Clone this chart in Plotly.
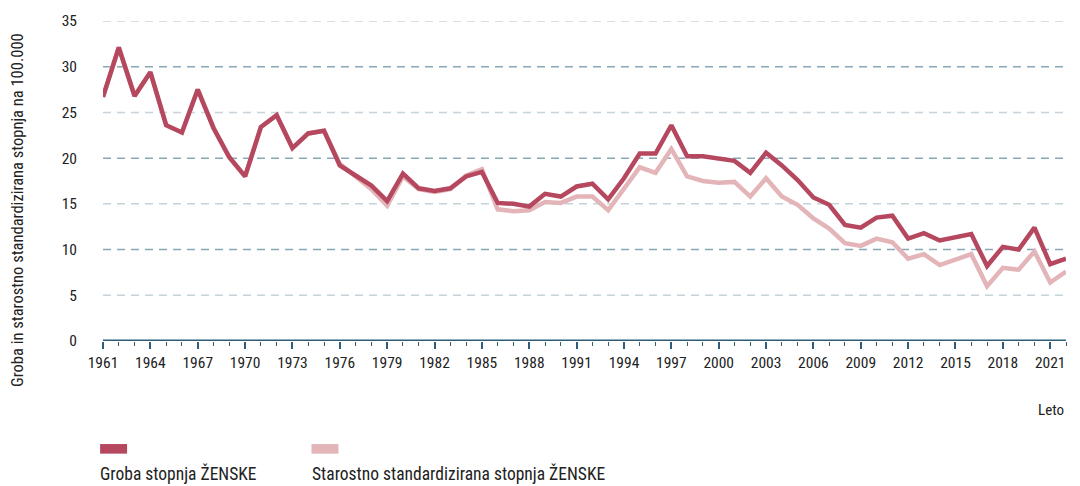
import plotly.graph_objects as go

years = list(range(1961, 2023))
groba = [26.7, 32.1, 26.8, 29.4, 23.6, 22.8, 27.5, 23.3, 20.1, 18.0,
         23.4, 24.7, 21.1, 22.7, 23.0, 19.2, 18.1, 17.0, 15.3, 18.3,
         16.7, 16.4, 16.7, 18.0, 18.5, 15.1, 15.0, 14.7, 16.1, 15.8,
         16.9, 17.2, 15.5, 17.8, 20.5, 20.5, 23.6, 20.2, 20.2, 20.0,
         19.7, 18.4, 20.6, 19.2, 17.6, 15.7, 14.9, 12.7, 12.4, 13.5,
         13.7, 11.2, 11.8, 11.0, 11.3, 11.7, 8.2, 10.3, 10.0, 12.4,
         8.4, 9.0]
standard = [26.7, 32.1, 26.8, 29.4, 23.6, 22.8, 27.5, 23.3, 20.1, 18.0,
            23.4, 24.7, 21.1, 22.7, 23.0, 19.4, 18.0, 16.6, 14.8, 18.0,
            16.6, 16.3, 16.6, 18.1, 18.8, 14.4, 14.2, 14.3, 15.2, 15.1,
            15.8, 15.8, 14.3, 16.6, 19.0, 18.4, 21.0, 18.0, 17.5, 17.3,
            17.4, 15.8, 17.8, 15.8, 14.9, 13.4, 12.3, 10.7, 10.4, 11.2,
            10.8, 9.0, 9.5, 8.3, 8.9, 9.5, 6.0, 8.0, 7.8, 9.8,
            6.4, 7.6]
series_names = ["Groba stopnja ŽENSKE", "Starostno standardizirana stopnja ŽENSKE"]
y_ticks = [0, 5, 10, 15, 20, 25, 30, 35]

DARK = "#b5485f"
LIGHT = "#e3b5b9"
AXIS = "#2d5f7a"
FONT = "Roboto Condensed, Liberation Sans Narrow, sans-serif"

fig = go.Figure()
fig.add_trace(go.Scatter(x=years, y=standard, mode="lines", name=series_names[1],
                         line=dict(color=LIGHT, width=4.5), showlegend=False))
fig.add_trace(go.Scatter(x=years, y=groba, mode="lines", name=series_names[0],
                         line=dict(color=DARK, width=4.5), showlegend=False))

# gridlines (alternating shades)
for v in y_ticks[1:]:
    col = "#8aa7b8" if v % 10 == 0 else "#c6d3da"
    fig.add_hline(y=v, line=dict(color=col, width=1.5, dash="8px,6px"), layer="below")

fig.update_layout(
    width=1080, height=486,
    margin=dict(l=103, r=14, t=17, b=145),
    paper_bgcolor="white", plot_bgcolor="white",
    font=dict(family=FONT, size=15, color="#222222"),
    xaxis=dict(range=[1961, 2022], tickmode="linear", tick0=1961, dtick=3,
               showgrid=False, zeroline=False, showline=False,
               ticks="outside", ticklen=7, tickwidth=1.5, tickcolor=AXIS,
               minor=dict(dtick=1, tick0=1961, ticks="outside", ticklen=4, tickcolor=AXIS, tickwidth=1),
               tickfont=dict(size=15.5)),
    yaxis=dict(range=[0, 35], tickvals=y_ticks, showgrid=False, zeroline=False,
               showline=False, ticks="", ticklabelstandoff=25, tickfont=dict(size=15.5)),
    showlegend=False,
)
# x axis line at y=0
fig.add_hline(y=0, line=dict(color=AXIS, width=3), layer="above")

# axis titles
fig.add_annotation(text="Groba in starostno standardizirana stopnja na 100.000",
                   xref="paper", yref="paper", x=-0.088, y=0.41, textangle=-90,
                   showarrow=False, font=dict(size=16.5), xanchor="center", yanchor="middle")
fig.add_annotation(text="Leto", xref="paper", yref="paper", x=1.0, y=-0.215,
                   showarrow=False, xanchor="right", yanchor="middle", font=dict(size=15))

# custom legend
leg_x = [0.0, 0.2195]
leg_col = [DARK, LIGHT]
for lx, col, name in zip(leg_x, leg_col, series_names):
    fig.add_shape(type="rect", xref="paper", yref="paper",
                  x0=lx - 0.003, x1=lx + 0.025, y0=-0.322, y1=-0.352,
                  fillcolor=col, line=dict(width=0))
    fig.add_annotation(text=name, xref="paper", yref="paper", x=lx - 0.005, y=-0.415,
                       showarrow=False, xanchor="left", yanchor="middle",
                       font=dict(size=17.5))

fig.write_html("out.html", config={"displayModeBar": False},
               post_script="document.body.style.margin='0';")
